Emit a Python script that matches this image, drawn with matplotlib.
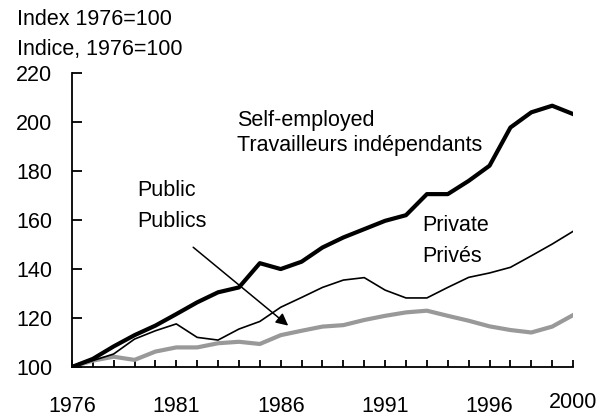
import matplotlib.pyplot as plt
import matplotlib.transforms as mtransforms

years = list(range(1976, 2001))
self_employed = [100, 103.3, 108.4, 113, 116.9, 121.6, 126.4, 130.5, 132.5, 142.4,
                 140, 143, 148.8, 152.9, 156.3, 159.7, 162, 170.6, 170.6, 176,
                 182.2, 197.8, 204, 206.7, 203.3]
private = [100, 102.6, 105.3, 111.4, 114.8, 117.6, 112.1, 111, 115.5, 118.6,
           124.4, 128.4, 132.5, 135.5, 136.5, 131.4, 128.2, 128.2, 132.5, 136.6,
           138.4, 140.7, 145.4, 150.2, 155.4]
public = [100, 102.6, 104.2, 102.9, 106.3, 108, 108, 109.7, 110.3, 109.4,
          113, 114.8, 116.5, 117.1, 119.2, 120.9, 122.3, 123, 120.9, 118.9,
          116.6, 115.1, 114.1, 116.5, 121.2]
label_years = [1976, 1981, 1986, 1991, 1996, 2000]

plt.rcParams["font.family"] = ["Liberation Sans", "DejaVu Sans"]
plt.rcParams["font.size"] = 15.5

fig = plt.figure(figsize=(6.09, 4.18), dpi=100)
ax = fig.add_axes([0.118, 0.122, 0.823, 0.703])

ax.plot(years, public, color="#999999", linewidth=3, solid_joinstyle="round")
ax.plot(years, private, color="black", linewidth=1.2)
ax.plot(years, self_employed, color="black", linewidth=3, solid_joinstyle="round")

ax.set_xlim(1976, 2000)
ax.set_ylim(100, 220)
ax.set_yticks(range(100, 221, 20))
ax.set_xticks(years)
ax.set_xticklabels([str(y) if y in label_years else "" for y in years])

for s in ["top", "right"]:
    ax.spines[s].set_visible(False)
for s in ["left", "bottom"]:
    ax.spines[s].set_linewidth(1.3)

ax.tick_params(axis="y", direction="in", length=7, width=1.3, pad=14)
ax.tick_params(axis="x", direction="in", length=5, width=1.3, pad=21)

# 2000 label sits a bit higher than the others
for lbl, y in zip(ax.get_xticklabels(), years):
    if y == 2000:
        lbl.set_transform(lbl.get_transform() +
                          mtransforms.ScaledTranslation(0, 3 / 72, fig.dpi_scale_trans))

ax.text(1983.89, 198.5, "Self-employed", va="baseline")
ax.text(1983.89, 188.3, "Travailleurs indépendants", va="baseline")
ax.text(1979.13, 169.9, "Public", va="baseline")
ax.text(1979.13, 157.0, "Publics", va="baseline")
ax.text(1992.8, 155.6, "Private", va="baseline")
ax.text(1992.8, 142.7, "Privés", va="baseline")

ax.annotate("", xy=(1986.36, 116.9), xytext=(1981.81, 148.9),
            arrowprops=dict(arrowstyle="-|>", color="black", lw=1.1,
                            mutation_scale=18, shrinkA=0, shrinkB=0))

fig.text(0.028, 0.940, "Index 1976=100", va="baseline")
fig.text(0.028, 0.868, "Indice, 1976=100", va="baseline")

fig.savefig("out.png", dpi=100)
